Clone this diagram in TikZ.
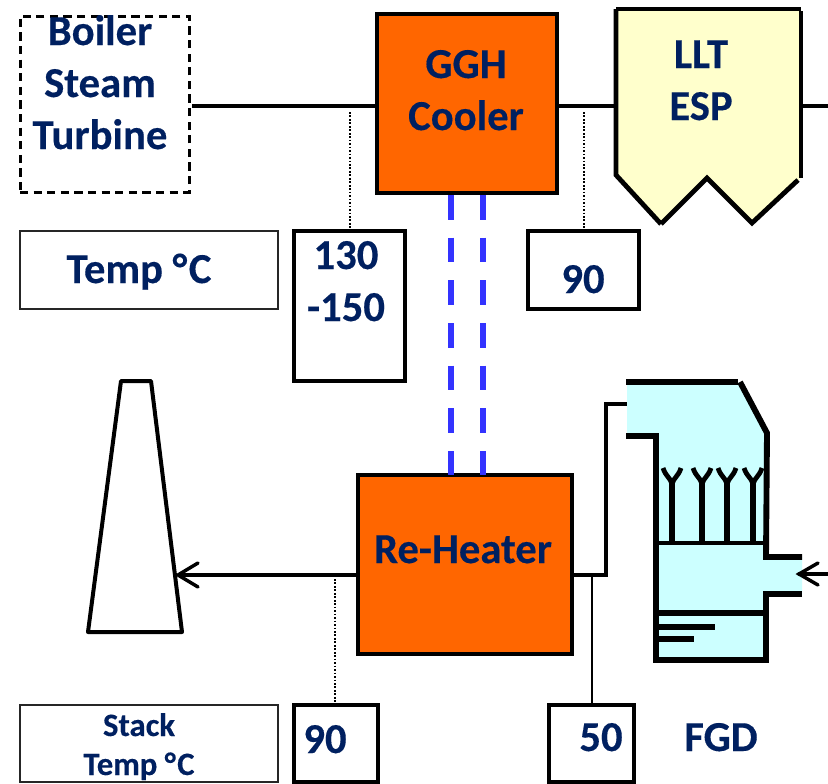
\documentclass[tikz,border=0pt]{standalone}
\usepackage{fontspec}
\setmainfont[BoldFeatures={FakeBold=0.3}]{Carlito}
\definecolor{navy}{HTML}{002060}
\definecolor{orng}{HTML}{FF6600}
\definecolor{pale}{HTML}{FFFFCC}
\definecolor{cyn}{HTML}{CCFFFF}
\definecolor{blu}{HTML}{3333FF}
\tikzset{
  x=0.75pt,y=-0.75pt,
  every node/.style={inner sep=0pt,outer sep=0pt},
  box/.style={draw=black,line width=2.3pt,fill=white,anchor=north west},
  thinbox/.style={draw=black!85,line width=1.9pt,fill=white,anchor=north west},
  hot/.style={draw=black,line width=2.3pt,fill=orng,anchor=north west},
  label/.style={anchor=base,text=navy,font=\fontsize{32pt}{32pt}\selectfont\bfseries},
  smalllabel/.style={anchor=base,text=navy,font=\fontsize{24.5pt}{24.5pt}\selectfont\bfseries},
  pipe/.style={draw=black,line width=2.5pt},
  probe/.style={draw=black,line width=1.1pt,dash pattern=on 1.3pt off 1.3pt},
  heavy/.style={draw=black,line width=3.6pt},
  fgdwall/.style={draw=black,line width=4.4pt},
  medium/.style={draw=black,line width=3pt},
  openhead/.style={draw=black,line width=2.6pt,line cap=round,line join=miter},
  duct/.style={draw=blu,line width=4.2pt,dash pattern=on 18.5pt off 13.5pt},
}
\begin{document}
\begin{tikzpicture}
\useasboundingbox (0,0) rectangle (828,783);
\fill[white] (0,0) rectangle (828,783);

% boxes
\node[draw=black,line width=2.25pt,dash pattern=on 6.2pt off 4pt,anchor=north west,minimum width=126.75pt,minimum height=132pt] (boiler) at (20,16) {};
\node[hot,minimum width=135pt,minimum height=134.25pt] (ggh) at (377,14) {};
\node[hot,minimum width=160.5pt,minimum height=134.25pt] (reheat) at (358,475) {};
\node[thinbox,minimum width=193.5pt,minimum height=58.5pt] (temp) at (20,231) {};
\node[box,minimum width=83.25pt,minimum height=112.5pt] (t130) at (294,231) {};
\node[box,minimum width=83.25pt,minimum height=58.5pt] (t90) at (528,231) {};
\node[thinbox,minimum width=193.5pt,minimum height=57.75pt] (stack) at (20,705) {};
\node[box,minimum width=63pt,minimum height=57.75pt] (s90) at (294,705) {};
\node[box,minimum width=63.75pt,minimum height=57.75pt] (s50) at (549,705) {};

% ESP
\fill[pale] (616,9) -- (801,9) -- (801,178) -- (752,223) -- (707,178) -- (661,224) -- (616,175) -- cycle;
\draw[heavy] (616,9) -- (801,9);
\draw[heavy] (616,9) -- (616,175) -- (661,224);
\draw[heavy] (661,224) -- (707,178) -- (752,223) -- (798,180);
\draw[heavy] (801,11) -- (801,178);
\coordinate (espW) at (616,106);
\coordinate (espE) at (801,106);
\coordinate (outE) at (828,106);

% Stack chimney
\draw[medium,line join=round] (121,381) -- (151,381) -- (182,632) -- (88,632) -- cycle;
\coordinate (chimIn) at (178,575);

% FGD
\fill[cyn] (627,382) -- (738,382) -- (767,433) -- (767,557) -- (802,557) -- (802,595) -- (767,595) -- (767,660) -- (656,660) -- (656,436) -- (627,436) -- cycle;
\draw[fgdwall] (626,382) -- (738,382);
\draw[fgdwall] (740,382) -- (767,433) -- (766,557) -- (802,557);
\draw[fgdwall] (802,594) -- (763,594);
\draw[fgdwall] (766,594) -- (766,660) -- (656,660) -- (656,436) -- (626,436);
\draw[draw=black,line width=3.6pt] (656,543) -- (765,543);
\draw[fgdwall] (656,613) -- (765,613);
\draw[fgdwall] (656,627) -- (715,627);
\draw[draw=black,line width=3.8pt] (656,639) -- (694,639);
\foreach \sx in {672,702,727,753}{
  \draw[draw=black,line width=3.8pt] (\sx,543) -- (\sx,478);
  \draw[draw=black,line width=3.6pt,line join=round] (\sx-9,468) .. controls (\sx-6,477) and (\sx-2,477) .. (\sx,484) .. controls (\sx+2,477) and (\sx+6,477) .. (\sx+9,468);
}
\coordinate (fgdIn) at (627,404);
\coordinate (fgdTip) at (799,574);
\coordinate (fgdFrom) at (828,574);

% connectors
\coordinate (boilerOut) at (192,106);
\draw[pipe] (boilerOut) -- (boilerOut -| ggh.west);
\draw[pipe] (ggh.east |- espW) -- (espW);
\draw[pipe] (espE) -- (outE);
\coordinate (reOut) at (reheat.west |- chimIn);
\draw[pipe] (reOut) -- (chimIn);
\draw[openhead] (198,563) -- (chimIn) -- (198,587);
\coordinate (reE) at (reheat.east |- chimIn);
\coordinate (riser) at (606,575);
\draw[pipe,line join=miter] (reE) -- (riser) -- (riser |- fgdIn) -- (fgdIn);
\draw[pipe,line width=1.5pt] (592,575) -- (592,705);
\draw[openhead] (fgdFrom) -- (fgdTip);
\draw[openhead] (818,563) -- (fgdTip) -- (818,585);

% probes
\coordinate (pa) at (350,112);
\coordinate (pb) at (584,112);
\coordinate (pc) at (335,579);
\draw[probe] (pa) -- (pa |- t130.north);
\draw[probe] (pb) -- (pb |- t90.north);
\draw[probe] (pc) -- (pc |- s90.north);

% GGH link
\coordinate (d1) at (451,195);
\coordinate (d2) at (483,195);
\draw[duct] (d1) -- (d1 |- reheat.north);
\draw[duct] (d2) -- (d2 |- reheat.north);

% labels
\node[label] (tBoiler) at (100,45) {Boiler};
\node[label] (tSteam) at (100,97) {Steam};
\node[label] (tTurbine) at (100,149) {Turbine};
\node[label] (tGGH) at (466,78) {GGH};
\node[label] (tCooler) at (466,130) {Cooler};
\node[label] (tLLT) at (701,68) {LLT};
\node[label] (tESP) at (701,120) {ESP};
\node[label] (tTemp) at (139,283) {Temp °\kern1.2pt C};
\node[label] (t130a) at (346,269) {130};
\node[label] (t150) at (346,321) {-150};
\node[label] (t90a) at (583,293) {90};
\node[label] (tRe) at (463,563) {Re-Heater};
\node[smalllabel] (tStack) at (139,736) {Stack};
\node[smalllabel] (tTemp2) at (139,775) {Temp °\kern1pt C};
\node[label] (t90b) at (325,753) {90};
\node[label] (t50) at (601,751) {50};
\node[label] (tFGD) at (721,751) {FGD};
\end{tikzpicture}
\end{document}
